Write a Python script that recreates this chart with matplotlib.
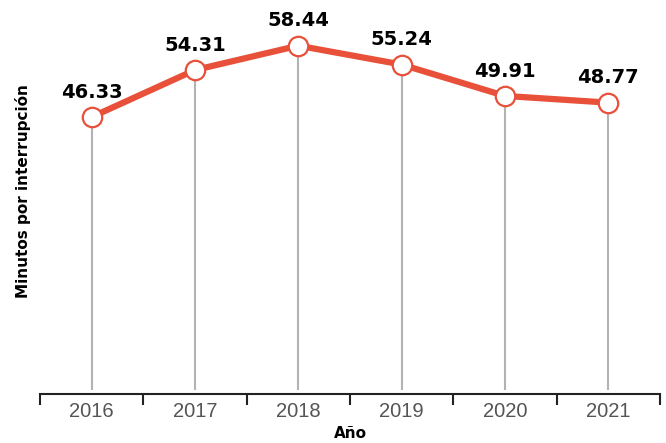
import matplotlib
matplotlib.use("Agg")
from matplotlib import pyplot as plt
import numpy as np

years = ["2016", "2017", "2018", "2019", "2020", "2021"]
minutes = [46.33, 54.31, 58.44, 55.24, 49.91, 48.77]

red = "#e8503a"
bold_fam = "DejaVu Sans"

fig = plt.figure(figsize=(6.66, 4.43), dpi=100)
ax = fig.add_axes([0.06, 0.12, 0.931, 0.88])

x = np.arange(len(years))
ax.vlines(x, 0, minutes, color="#b3b3b3", lw=1.5, zorder=1)
ax.plot(x, minutes, color=red, lw=4.5, zorder=2, solid_capstyle="round")
ax.plot(x, minutes, "o", ms=14, mfc="white", mec=red, mew=1.6, zorder=3)

for xi, v in zip(x, minutes):
    ax.annotate(f"{v:.2f}", (xi, v), xytext=(0, 11), textcoords="offset points",
                ha="center", va="bottom", fontsize=14, fontweight="bold",
                family=bold_fam, color="black")

ax.set_xlim(-0.5, len(years) - 0.5)
ax.set_ylim(0, 66.2)

# boundary ticks between years, labels centred in each band
ax.set_xticks(np.arange(-0.5, len(years)), labels=[""] * (len(years) + 1))
ax.set_xticks(x, labels=years, minor=True)
ax.tick_params(axis="x", which="major", length=8, width=1.5, color="#222222",
               direction="out")
ax.tick_params(axis="x", which="minor", length=0, pad=6, labelsize=14.5,
               labelcolor="#555555", labelfontfamily="Liberation Sans")
ax.set_yticks([])

for s in ["top", "right", "left"]:
    ax.spines[s].set_visible(False)
ax.spines["bottom"].set_linewidth(1.5)
ax.spines["bottom"].set_color("#222222")
ax.spines["bottom"].set_position(("outward", 3))

ax.set_xlabel("Año", fontsize=11, fontweight="bold", family=bold_fam, labelpad=3)
ax.set_ylabel("Minutos por interrupción", fontsize=11, fontweight="bold",
              family=bold_fam)
ax.yaxis.set_label_coords(-0.015, 0.51)

fig.savefig("out.png", dpi=100)
